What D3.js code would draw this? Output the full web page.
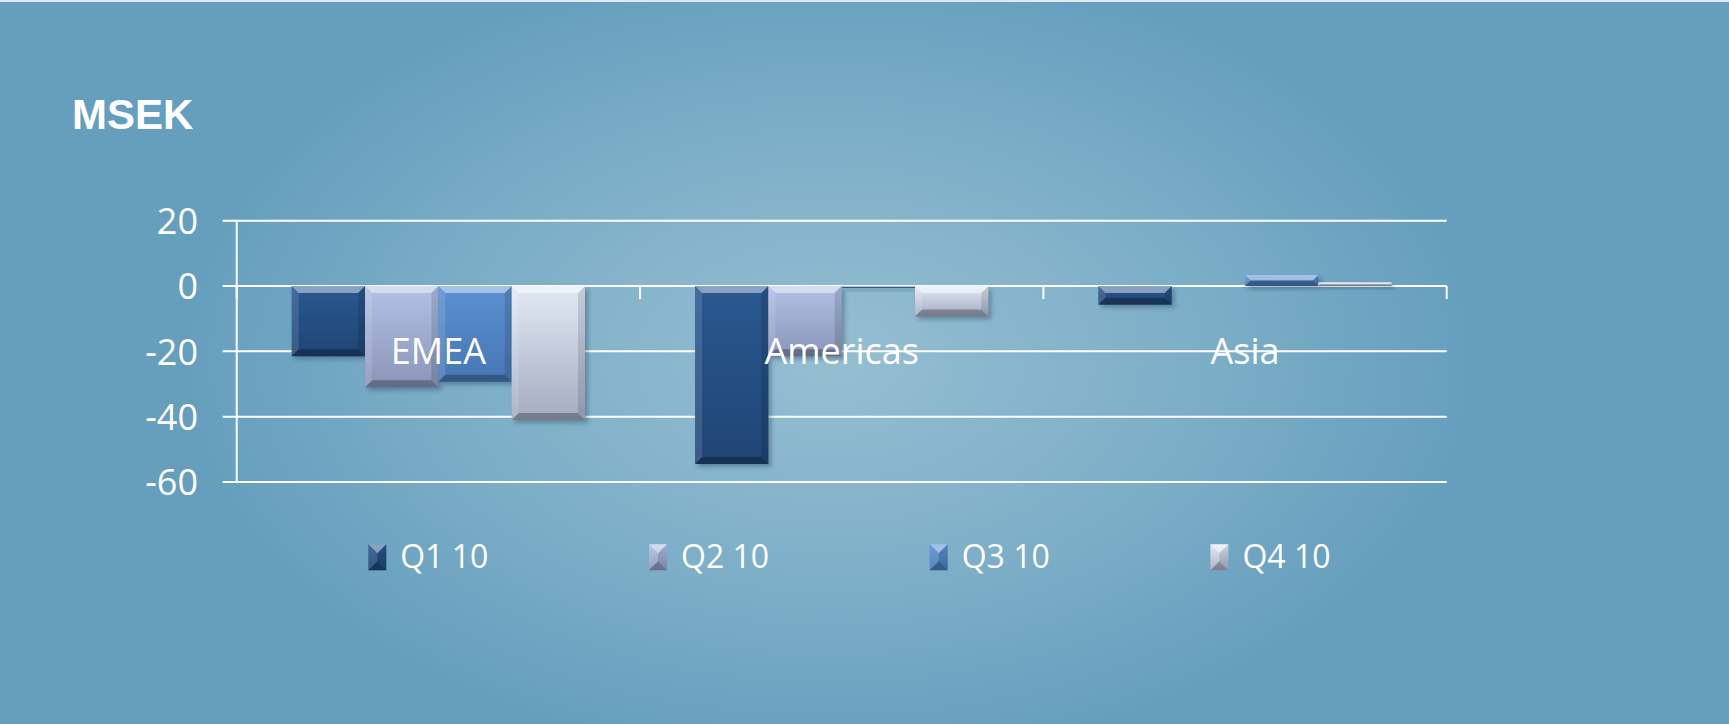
<!DOCTYPE html>
<html>
<head>
<meta charset="utf-8">
<script src="https://cdn.jsdelivr.net/npm/d3@7"></script>
<style>
html,body{margin:0;padding:0;background:#669fbe;}
svg{display:block;}
</style>
</head>
<body>
<svg id="chart" width="1729" height="724"></svg>
<script>
// ---- data ----
const categories = ["EMEA", "Americas", "Asia"];
const seriesNames = ["Q1 10", "Q2 10", "Q3 10", "Q4 10"];
const q1 = [-21.5, -54.5, -5.7];
const q2 = [-31, -21.5, 0];
const q3 = [-29.3, -0.6, 3.4];
const q4 = [-41, -9.3, 1.1];
const yTicks = [20, 0, -20, -40, -60];
const yTickLabels = ["20", "0", "-20", "-40", "-60"];
const unitLabel = "MSEK";

const seriesValues = [q1, q2, q3, q4];
const seriesColors = [
  {top:"#2a5890", bot:"#1f4574"},
  {top:"#b3c1e6", bot:"#8995b8"},
  {top:"#5a90d2", bot:"#4777b4"},
  {top:"#e2e9f5", bot:"#a4abc0"}
];

const W = 1729, H = 724;
const svg = d3.select("#chart");
const defs = svg.append("defs");

// background radial gradient
const bg = defs.append("radialGradient").attr("id","bg")
  .attr("gradientUnits","userSpaceOnUse")
  .attr("cx",830).attr("cy",360).attr("r",640)
  .attr("gradientTransform","translate(830,360) scale(1,0.62) translate(-830,-360)");
bg.append("stop").attr("offset","0").attr("stop-color","#95bed2");
bg.append("stop").attr("offset","0.55").attr("stop-color","#7eafc8");
bg.append("stop").attr("offset","1").attr("stop-color","#669fbe");
svg.append("rect").attr("width",W).attr("height",H).attr("fill","#669fbe");
svg.append("rect").attr("width",W).attr("height",H).attr("fill","url(#bg)");
svg.append("line").attr("x1",0).attr("x2",W).attr("y1",1).attr("y2",1)
  .attr("stroke","#dfe9ef").attr("stroke-width",2);

seriesColors.forEach((c,i)=>{
  const g = defs.append("linearGradient").attr("id","sg"+i)
    .attr("x1",0).attr("y1",0).attr("x2",0).attr("y2",1);
  g.append("stop").attr("offset","0").attr("stop-color",c.top);
  g.append("stop").attr("offset","1").attr("stop-color",c.bot);
});
const shadow = defs.append("filter").attr("id","shadow")
  .attr("x","-20%").attr("y","-20%").attr("width","140%").attr("height","140%");
shadow.append("feGaussianBlur").attr("stdDeviation",2);

// ---- scales ----
const plotL = 236.7, plotR = 1446.7;
const y = d3.scaleLinear().domain([-60, 20]).range([482, 220.7]);
const x0 = d3.scaleBand().domain(categories).range([plotL, plotR])
  .paddingInner(1.5/5.5).paddingOuter(0.75/5.5);
const x1 = d3.scaleBand().domain(seriesNames).range([0, x0.bandwidth()]);

// gridlines
svg.append("g").selectAll("line").data(yTicks).join("line")
  .attr("x1", plotL - 14).attr("x2", plotR)
  .attr("y1", d => y(d)).attr("y2", d => y(d))
  .attr("stroke","#ffffff").attr("stroke-width",2);

// y axis line
svg.append("line").attr("x1",plotL).attr("x2",plotL)
  .attr("y1",y(20)).attr("y2",y(-60)).attr("stroke","#fff").attr("stroke-width",2);

// category boundary ticks (down from zero line)
const bounds = d3.range(categories.length + 1).map(i => plotL + i * x0.step());
svg.append("g").selectAll("line").data(bounds).join("line")
  .attr("x1",d=>d).attr("x2",d=>d)
  .attr("y1",y(0)).attr("y2",y(0)+13)
  .attr("stroke","#fff").attr("stroke-width",2);

// y tick labels via axis
const yAxis = d3.axisLeft(y).tickValues(yTicks)
  .tickFormat((d,i)=>yTickLabels[i]).tickSize(0).tickPadding(0);
const ya = svg.append("g").attr("transform",`translate(198,0)`).call(yAxis);
ya.select(".domain").remove();
ya.selectAll("text").attr("fill","#fff").attr("font-family","'Open Sans', sans-serif")
  .attr("font-size",36).attr("dy","0.36em");

// ---- bars ----
function bevelBar(g, x, yy, w, h, i) {
  const b = Math.max(0, Math.min(7, h/2, w/2));
  g.append("rect").attr("x",x+3).attr("y",yy+3).attr("width",w).attr("height",h)
    .attr("fill","#1d3550").attr("opacity",0.35).attr("filter","url(#shadow)");
  g.append("rect").attr("x",x).attr("y",yy).attr("width",w).attr("height",h)
    .attr("fill","url(#sg"+i+")");
  const poly = (pts, fill, op) => g.append("polygon")
    .attr("points", pts.map(p=>p.join(",")).join(" ")).attr("fill",fill).attr("opacity",op);
  poly([[x,yy],[x+w,yy],[x+w-b,yy+b],[x+b,yy+b]], "#ffffff", 0.45);
  poly([[x,yy],[x+b,yy+b],[x+b,yy+h-b],[x,yy+h]], "#ffffff", 0.12);
  poly([[x+w,yy],[x+w,yy+h],[x+w-b,yy+h-b],[x+w-b,yy+b]], "#000000", 0.12);
  poly([[x,yy+h],[x+b,yy+h-b],[x+w-b,yy+h-b],[x+w,yy+h]], "#000000", 0.28);
}

const barsG = svg.append("g");
seriesNames.forEach((s, si) => {
  categories.forEach((c, ci) => {
    const v = seriesValues[si][ci];
    if (v === 0) return;
    const bx = x0(c) + x1(s);
    const yTop = y(Math.max(0, v));
    const hgt = Math.abs(y(v) - y(0));
    bevelBar(barsG.append("g"), bx, yTop, x1.bandwidth(), hgt, si);
  });
});

// category labels
svg.append("g").selectAll("text").data(categories).join("text")
  .attr("x", d => x0(d) + x0.bandwidth()/2)
  .attr("y", y(-20) + 12.5)
  .attr("text-anchor","middle")
  .attr("fill","#fff").attr("font-family","'Open Sans', sans-serif")
  .attr("font-size",36)
  .text(d=>d);

// unit title
svg.append("text").attr("x",72).attr("y",129)
  .attr("fill","#fff").attr("font-family","'Liberation Sans', Arial, sans-serif")
  .attr("font-weight","bold").attr("font-size",42).text(unitLabel);

// ---- legend ----
const legendX = d3.scalePoint().domain(seriesNames).range([368.3, 368.3 + 3*280.7]);
const lg = svg.append("g");
seriesNames.forEach((s, si) => {
  const mx = legendX(s), my = 544.3, mw = 18, mh = 26;
  const g = lg.append("g");
  g.append("rect").attr("x",mx).attr("y",my).attr("width",mw).attr("height",mh)
    .attr("fill","url(#sg"+si+")");
  const b = mw/2;
  const poly = (pts, fill, op) => g.append("polygon")
    .attr("points", pts.map(p=>p.join(",")).join(" ")).attr("fill",fill).attr("opacity",op);
  poly([[mx,my],[mx+mw,my],[mx+mw-b,my+b],[mx+b,my+b]], "#ffffff", 0.45);
  poly([[mx,my],[mx+b,my+b],[mx+b,my+mh-b],[mx,my+mh]], "#ffffff", 0.1);
  poly([[mx+mw,my],[mx+mw,my+mh],[mx+mw-b,my+mh-b],[mx+mw-b,my+b]], "#000000", 0.1);
  poly([[mx,my+mh],[mx+b,my+mh-b],[mx+mw-b,my+mh-b],[mx+mw,my+mh]], "#000000", 0.25);
  g.append("text").attr("x", mx + 32).attr("y", 567.5)
    .attr("fill","#fff").attr("font-family","'Open Sans', sans-serif")
    .attr("font-size",32).text(s);
});
</script>
</body>
</html>
